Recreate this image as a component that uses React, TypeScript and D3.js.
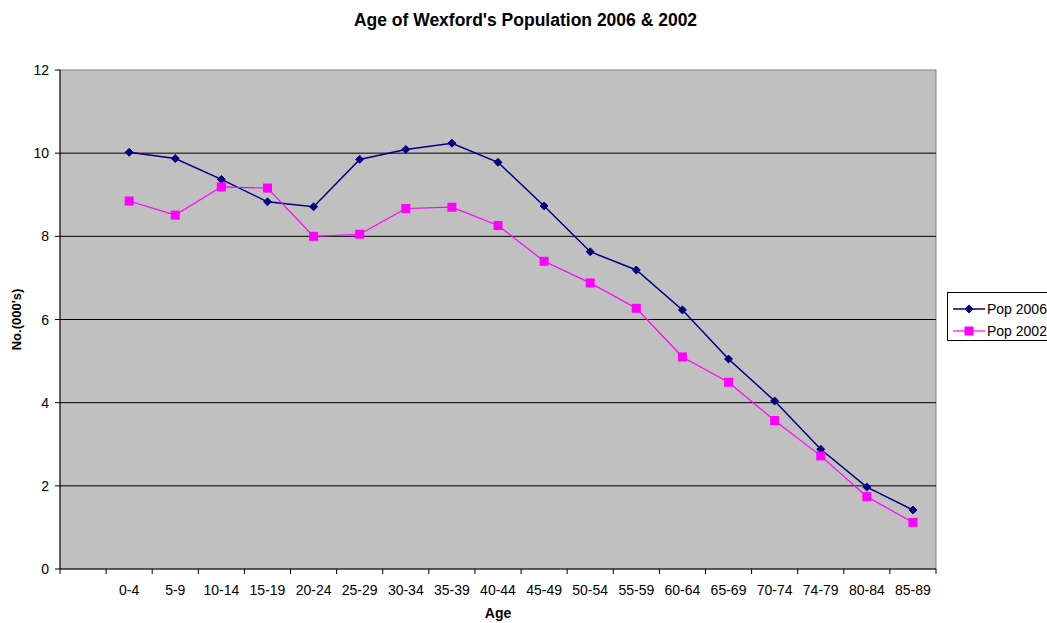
import React from "react";
import * as d3 from "d3";

const categories = ["", "0-4", "5-9", "10-14", "15-19", "20-24", "25-29", "30-34", "35-39", "40-44", "45-49", "50-54", "55-59", "60-64", "65-69", "70-74", "74-79", "80-84", "85-89"];
const ageGroups = categories.slice(1);
const pop2006 = [10.02, 9.87, 9.37, 8.83, 8.71, 9.85, 10.09, 10.24, 9.78, 8.73, 7.63, 7.19, 6.23, 5.05, 4.04, 2.88, 1.97, 1.42];
const pop2002 = [8.85, 8.51, 9.19, 9.16, 8.0, 8.05, 8.67, 8.7, 8.26, 7.4, 6.88, 6.27, 5.1, 4.49, 3.57, 2.72, 1.74, 1.12];
const yTicks = [0, 2, 4, 6, 8, 10, 12];

const W = 1047, H = 623;
const left = 60, right = 936, top = 70, bottom = 569;
const font = "'Liberation Sans', Arial, sans-serif";

export default function App() {
  const x = d3.scaleBand().domain(categories.map((c, i) => String(i))).range([left, right]).padding(0);
  const y = d3.scaleLinear().domain([0, 12]).range([bottom, top]);
  const cx = (i: number) => (x(String(i + 1)) as number) + x.bandwidth() / 2;
  const line = d3.line<number>().x((d, i) => cx(i)).y((d) => y(d));
  const diamond = d3.symbol().type(d3.symbolDiamond2 ?? d3.symbolDiamond).size(40)();
  const tickXs = categories.map((c, i) => x(String(i)) as number).concat([right]);

  return (
    <svg width={W} height={H} style={{ position: "absolute", left: 0, top: 0, fontFamily: font }}>
      <rect x={0} y={0} width={W} height={H} fill="#fff" />
      <text x={525.5} y={26} textAnchor="middle" fontSize={17.5} fontWeight="bold">Age of Wexford's Population 2006 &amp; 2002</text>
      <rect x={left} y={top} width={right - left} height={bottom - top} fill="#c0c0c0" stroke="#808080" strokeWidth={1} />
      {yTicks.filter((t) => t > 0 && t < 12).map((t) => (
        <line key={t} x1={left} x2={right} y1={y(t)} y2={y(t)} stroke="#000" strokeWidth={1} />
      ))}
      <line x1={left} x2={left} y1={top} y2={bottom} stroke="#000" />
      <line x1={left} x2={right} y1={bottom} y2={bottom} stroke="#000" />
      {yTicks.map((t) => (
        <g key={t}>
          <line x1={left - 5} x2={left} y1={y(t)} y2={y(t)} stroke="#000" />
          <text x={49} y={y(t) + 5} textAnchor="end" fontSize={14}>{t}</text>
        </g>
      ))}
      {tickXs.map((tx, i) => (
        <line key={i} x1={tx} x2={tx} y1={bottom} y2={bottom + 5} stroke="#000" />
      ))}
      {ageGroups.map((c, i) => (
        <text key={c} x={cx(i)} y={595} textAnchor="middle" fontSize={14}>{c}</text>
      ))}
      <text x={498} y={618} textAnchor="middle" fontSize={14} fontWeight="bold">Age</text>
      <text transform={`translate(21,${(top + bottom) / 2}) rotate(-90)`} textAnchor="middle" fontSize={13} fontWeight="bold">No.(000's)</text>

      <path d={line(pop2006) as string} fill="none" stroke="#000080" strokeWidth={1.5} />
      {pop2006.map((v, i) => (
        <path key={i} d={diamond as string} transform={`translate(${cx(i)},${y(v)})`} fill="#000080" stroke="#000080" />
      ))}
      <path d={line(pop2002) as string} fill="none" stroke="#ff00ff" strokeWidth={1.2} />
      {pop2002.map((v, i) => (
        <rect key={i} x={cx(i) - 4.5} y={y(v) - 4.5} width={9} height={9} fill="#ff00ff" />
      ))}

      <rect x={947.5} y={292.5} width={120} height={48} fill="#fff" stroke="#000" />
      <line x1={953} x2={985} y1={309} y2={309} stroke="#000080" strokeWidth={1.5} />
      <path d={diamond as string} transform="translate(969,309)" fill="#000080" stroke="#000080" />
      <text x={987} y={314} fontSize={14}>Pop 2006</text>
      <line x1={953} x2={985} y1={331} y2={331} stroke="#ff00ff" strokeWidth={1.2} />
      <rect x={964.5} y={326.5} width={9} height={9} fill="#ff00ff" />
      <text x={987} y={336} fontSize={14}>Pop 2002</text>
    </svg>
  );
}
